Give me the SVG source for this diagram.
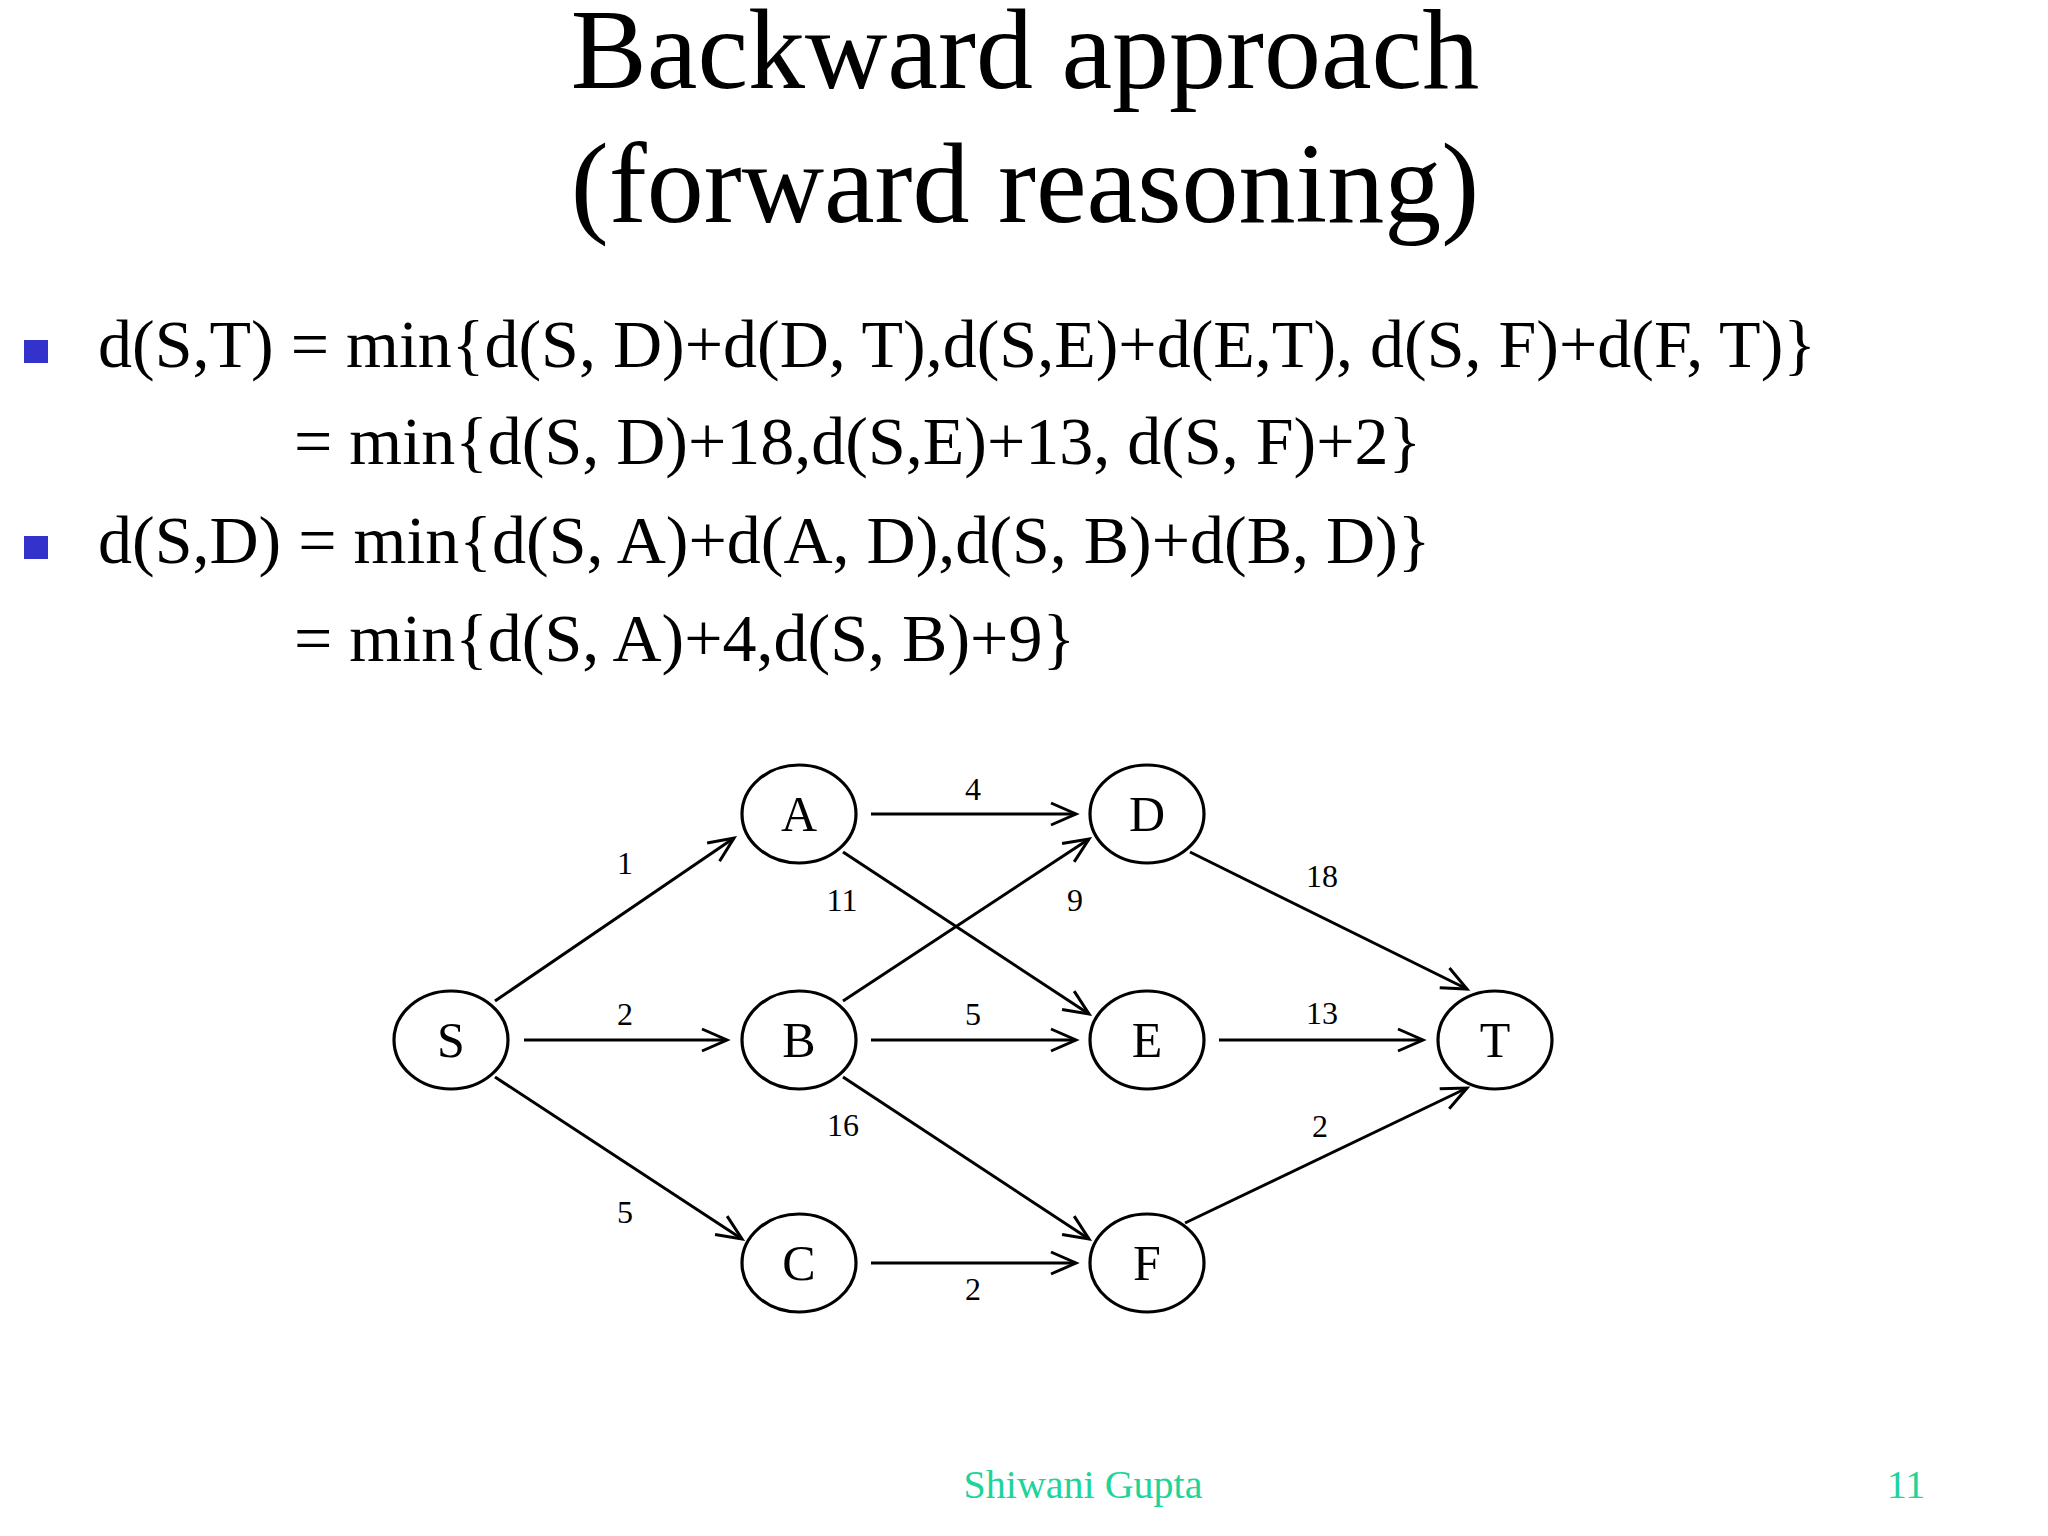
<svg xmlns="http://www.w3.org/2000/svg" width="2048" height="1536" viewBox="0 0 2048 1536">
<defs>
<style>
.t{font-family:"Liberation Serif","Times New Roman",serif;fill:#000}
.title{font-size:114px;text-anchor:middle}
.eq{font-size:68px}
.node ellipse{fill:#fff;stroke:#000;stroke-width:3.2}
.node text{font-family:"Liberation Serif","Times New Roman",serif;font-size:50px;text-anchor:middle;fill:#000}
.edges line{stroke:#000;stroke-width:3;fill:none;marker-end:url(#arr)}
.lbl{font-family:"Liberation Serif","Times New Roman",serif;font-size:32px;text-anchor:middle;fill:#000}
.foot{font-family:"Liberation Serif","Times New Roman",serif;font-size:40px;fill:#1dd49a}
.bul{fill:#3333cc}
</style>
<marker id="arr" markerUnits="userSpaceOnUse" markerWidth="30" markerHeight="30" refX="0" refY="0" orient="auto" overflow="visible">
<path d="M-25,-11 L0,0 L-25,11" fill="none" stroke="#000" stroke-width="3"/>
</marker>
</defs>
<rect width="2048" height="1536" fill="#fff"/>
<g id="title">
<text class="t title" x="1025" y="88">Backward approach</text>
<text class="t title" x="1025" y="222">(forward reasoning)</text>
</g>
<g id="equations">
<rect class="bul" x="24" y="340" width="24" height="23"/>
<text class="t eq" x="98" y="367">d(S,T) = min{d(S, D)+d(D, T),d(S,E)+d(E,T), d(S, F)+d(F, T)}</text>
<text class="t eq" x="294" y="464">= min{d(S, D)+18,d(S,E)+13, d(S, F)+2}</text>
<rect class="bul" x="24" y="536" width="24" height="23"/>
<text class="t eq" x="98" y="563">d(S,D) = min{d(S, A)+d(A, D),d(S, B)+d(B, D)}</text>
<text class="t eq" x="294" y="661">= min{d(S, A)+4,d(S, B)+9}</text>
</g>
<g class="edges" id="connectors">
<line x1="495" y1="1001" x2="734" y2="838"/>
<line x1="524" y1="1040" x2="727" y2="1040"/>
<line x1="495" y1="1077" x2="742" y2="1239"/>
<line x1="871" y1="814" x2="1076" y2="814"/>
<line x1="843" y1="852" x2="1089" y2="1014"/>
<line x1="843" y1="1001" x2="1089" y2="839"/>
<line x1="871" y1="1040" x2="1076" y2="1040"/>
<line x1="843" y1="1077" x2="1089" y2="1239"/>
<line x1="871" y1="1263" x2="1076" y2="1263"/>
<line x1="1190" y1="852" x2="1467" y2="989"/>
<line x1="1219" y1="1040" x2="1423" y2="1040"/>
<line x1="1185" y1="1223" x2="1467" y2="1088"/>
</g>
<g id="edge-labels">
<text class="lbl" x="625" y="874">1</text>
<text class="lbl" x="625" y="1025">2</text>
<text class="lbl" x="625" y="1223">5</text>
<text class="lbl" x="973" y="800">4</text>
<text class="lbl" x="842" y="911">11</text>
<text class="lbl" x="1075" y="911">9</text>
<text class="lbl" x="973" y="1025">5</text>
<text class="lbl" x="843" y="1136">16</text>
<text class="lbl" x="973" y="1300">2</text>
<text class="lbl" x="1322" y="887">18</text>
<text class="lbl" x="1322" y="1024">13</text>
<text class="lbl" x="1320" y="1137">2</text>
</g>
<g class="node" id="node-S"><ellipse cx="451" cy="1040" rx="57" ry="49"/><text x="451" y="1057">S</text></g>
<g class="node" id="node-A"><ellipse cx="799" cy="814" rx="57" ry="49"/><text x="799" y="831">A</text></g>
<g class="node" id="node-B"><ellipse cx="799" cy="1040" rx="57" ry="49"/><text x="799" y="1057">B</text></g>
<g class="node" id="node-C"><ellipse cx="799" cy="1263" rx="57" ry="49"/><text x="799" y="1280">C</text></g>
<g class="node" id="node-D"><ellipse cx="1147" cy="814" rx="57" ry="49"/><text x="1147" y="831">D</text></g>
<g class="node" id="node-E"><ellipse cx="1147" cy="1040" rx="57" ry="49"/><text x="1147" y="1057">E</text></g>
<g class="node" id="node-F"><ellipse cx="1147" cy="1263" rx="57" ry="49"/><text x="1147" y="1280">F</text></g>
<g class="node" id="node-T"><ellipse cx="1495" cy="1040" rx="57" ry="49"/><text x="1495" y="1057">T</text></g>
<g id="footer">
<text class="foot" x="1083" y="1498" text-anchor="middle">Shiwani Gupta</text>
<text class="foot" x="1906" y="1498" text-anchor="middle">11</text>
</g>
</svg>
